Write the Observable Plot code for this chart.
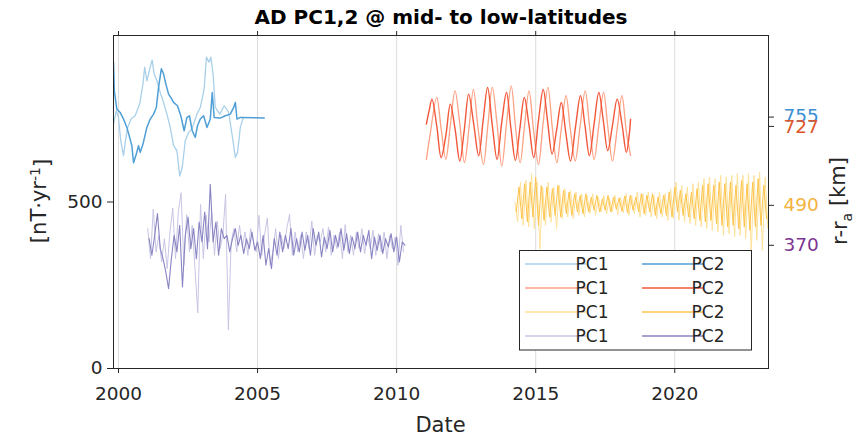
<!DOCTYPE html>
<html><head><meta charset="utf-8">
<script src="https://cdn.jsdelivr.net/npm/d3@7"></script>
<script src="https://cdn.jsdelivr.net/npm/@observablehq/plot@0.6"></script>
<style>html,body{margin:0;padding:0;background:#fff}svg{display:block}</style>
</head><body><div id="chart"></div>
<script>
// ---- tick labels / axes ----
const xTicks = [2000, 2005, 2010, 2015, 2020];
const yTicks = [0, 500];
const rightTicks = [755, 727, 490, 370];
const rightTickColors = ["#3b8fd3", "#e0562a", "#f2b43e", "#7d3691"];
const legendLabels = ["PC1", "PC2"];

// ---- series colours (PC1 light, PC2 dark) ----
const bluePC1Color = "#a9d0ea", bluePC2Color = "#4f9fd6";
const redPC1Color = "#fca285", redPC2Color = "#f2573a";
const yellowPC1Color = "#fee29a", yellowPC2Color = "#fec44c";
const purplePC1Color = "#c8c5e4", purplePC2Color = "#8985c3";

// ---- blue group: [decimal year, nT/yr] ----
const bluePC1 = [[1999.82,734],[1999.92,774],[2000.0,754],[2000.08,684],[2000.18,639],[2000.25,684],[2000.33,724],[2000.45,749],[2000.6,759],[2000.76,794],[2000.88,855],[2000.94,905],[2001.02,864],[2001.14,905],[2001.21,927],[2001.28,885],[2001.38,864],[2001.5,829],[2001.62,799],[2001.74,764],[2001.86,724],[2001.98,669],[2002.1,654],[2002.2,578],[2002.29,603],[2002.4,684],[2002.52,709],[2002.64,719],[2002.82,764],[2002.94,784],[2003.08,839],[2003.16,935],[2003.25,920],[2003.32,935],[2003.4,885],[2003.48,784],[2003.64,764],[2003.8,789],[2003.96,769],[2004.08,704],[2004.2,634],[2004.28,649],[2004.38,724],[2004.48,752]];
const bluePC2 = [[1999.82,920],[1999.85,834],[1999.94,779],[2000.06,769],[2000.18,749],[2000.3,724],[2000.4,694],[2000.48,669],[2000.54,618],[2000.64,644],[2000.72,669],[2000.78,649],[2000.88,674],[2001.02,724],[2001.14,749],[2001.26,764],[2001.36,784],[2001.44,844],[2001.54,900],[2001.62,885],[2001.7,855],[2001.8,824],[2001.88,814],[2001.98,799],[2002.12,789],[2002.24,759],[2002.36,714],[2002.46,754],[2002.55,759],[2002.65,714],[2002.76,694],[2002.84,729],[2002.94,749],[2003.06,759],[2003.18,724],[2003.3,749],[2003.37,829],[2003.44,754],[2003.66,752],[2003.84,759],[2004.02,764],[2004.14,784],[2004.2,799],[2004.26,749],[2004.38,754],[2005.24,752]];

// ---- red group ----
const redPC1 = [[2011.07,628],[2011.2,700],[2011.44,814],[2011.6,720],[2011.77,628],[2011.93,730],[2012.1,834],[2012.27,735],[2012.44,618],[2012.6,720],[2012.76,838],[2012.93,720],[2013.12,613],[2013.28,730],[2013.44,844],[2013.61,735],[2013.78,608],[2013.95,735],[2014.12,849],[2014.28,720],[2014.44,618],[2014.6,730],[2014.76,834],[2014.93,710],[2015.1,613],[2015.27,740],[2015.44,844],[2015.6,720],[2015.76,618],[2015.92,720],[2016.09,819],[2016.25,715],[2016.42,623],[2016.6,730],[2016.78,834],[2016.94,725],[2017.1,628],[2017.27,730],[2017.44,829],[2017.6,720],[2017.76,623],[2017.93,720],[2018.1,819],[2018.26,710],[2018.41,640]];
const redPC2 = [[2011.07,734],[2011.17,775],[2011.27,809],[2011.44,730],[2011.6,633],[2011.77,700],[2011.93,794],[2012.1,720],[2012.27,623],[2012.43,715],[2012.59,824],[2012.77,735],[2012.95,639],[2013.11,745],[2013.27,844],[2013.44,730],[2013.61,628],[2013.78,740],[2013.95,829],[2014.11,720],[2014.27,625],[2014.43,720],[2014.59,814],[2014.76,730],[2014.93,633],[2015.1,745],[2015.27,838],[2015.43,740],[2015.59,644],[2015.75,715],[2015.92,799],[2016.08,710],[2016.25,623],[2016.43,725],[2016.61,819],[2016.77,730],[2016.93,639],[2017.1,735],[2017.27,829],[2017.43,745],[2017.59,654],[2017.76,730],[2017.93,809],[2018.1,735],[2018.26,649],[2018.36,700],[2018.41,749]];

// ---- yellow group: sampled every 0.1 yr ----
const yellowPC1Start = 2014.25, yellowPC2Start = 2014.3, yellowStep = 0.1;
const yellowPC1 = [500,440,560,430,565,425,585,420,560,360,545,430,560,440,545,420,550,450,540,455,535,450,530,460,525,455,520,465,525,460,515,470,520,465,512,470,520,462,515,468,525,460,520,465,530,455,525,460,530,455,520,450,530,455,525,445,540,450,560,445,550,440,545,435,555,430,560,425,570,420,575,415,570,410,580,400,575,405,580,395,585,400,580,390,585,350,580,385,590,355,575,420];
const yellowPC2 = [470,545,450,555,440,560,455,575,430,550,445,545,455,540,460,550,455,535,465,530,460,525,470,520,465,525,470,515,475,520,470,510,475,520,470,515,478,512,472,518,468,520,475,515,470,525,465,520,470,525,460,515,465,520,460,530,455,545,470,535,460,525,455,530,450,540,445,550,440,555,445,550,435,560,430,555,425,560,430,550,420,565,425,555,415,560,425,570,430,550,450];

// ---- purple group: sampled every 0.1 yr ----
const purplePC1Start = 2001.05, purplePC2Start = 2001.1, purpleStep = 0.1;
const purplePC1 = [420,330,478,350,400,320,390,300,410,481,330,470,528,310,462,350,430,300,167,493,330,460,380,470,340,442,360,400,523,116,380,420,350,430,365,410,340,420,380,350,460,340,400,452,310,350,420,330,400,360,420,463,340,410,350,400,330,410,360,443,340,400,380,420,350,425,340,400,360,410,330,432,350,400,340,410,360,420,345,400,360,415,340,405,350,410,330,400,360,395,310,430,350];
const purplePC2 = [390,340,400,465,360,330,290,240,330,400,350,430,245,400,455,360,420,330,440,380,470,360,553,380,440,340,420,390,400,350,390,420,370,400,345,390,360,410,355,380,330,400,310,360,300,390,340,410,350,400,360,420,340,390,350,410,355,400,340,420,370,410,335,395,360,415,350,400,365,420,355,405,345,395,360,410,350,400,370,415,330,395,355,400,345,390,365,405,350,395,320,380,370];

// ---- build tables ----
const fromPairs = arr => arr.map(([t, v]) => ({t, v}));
const fromSamples = (start, step, vals) => vals.map((v, i) => ({t: start + i * step, v}));

const series = [
  {data: fromPairs(bluePC1), color: bluePC1Color, w: 1.3, curve: "linear"},
  {data: fromPairs(bluePC2), color: bluePC2Color, w: 1.5, curve: "linear"},
  {data: fromPairs(redPC1), color: redPC1Color, w: 1.3, curve: "catmull-rom"},
  {data: fromPairs(redPC2), color: redPC2Color, w: 1.4, curve: "catmull-rom"},
  {data: fromSamples(yellowPC1Start, yellowStep, yellowPC1), color: yellowPC1Color, w: 1, curve: "linear"},
  {data: fromSamples(yellowPC2Start, yellowStep, yellowPC2), color: yellowPC2Color, w: 1, curve: "linear"},
  {data: fromSamples(purplePC1Start, purpleStep, purplePC1), color: purplePC1Color, w: 1, curve: "linear"},
  {data: fromSamples(purplePC2Start, purpleStep, purplePC2), color: purplePC2Color, w: 1.1, curve: "linear"}
];
const legendRows = [
  [bluePC1Color, bluePC2Color],
  [redPC1Color, redPC2Color],
  [yellowPC1Color, yellowPC2Color],
  [purplePC1Color, purplePC2Color]
];

const ink = "#262626";
const tickFont = 18.5;

const chart = Plot.plot({
  width: 860,
  height: 437,
  marginLeft: 113,
  marginRight: 92,
  marginTop: 35,
  marginBottom: 69,
  style: {fontFamily: "'DejaVu Sans', sans-serif", fontSize: tickFont + "px", color: ink, background: "#fff"},
  x: {domain: [1999.82, 2023.37]},
  y: {domain: [0, 1000]},
  marks: [
    Plot.gridX(xTicks, {stroke: "#dcdcdc", strokeOpacity: 1}),
    ...series.map(s => Plot.line(s.data, {x: "t", y: "v", stroke: s.color, strokeWidth: s.w, curve: s.curve, clip: true})),
    Plot.frame({stroke: ink}),
    Plot.axisX({ticks: xTicks, tickFormat: d => String(d), tickSize: 5, tickPadding: 13, label: null, fontSize: tickFont, stroke: ink, fill: ink}),
    Plot.axisX({anchor: "top", ticks: xTicks, tickFormat: () => "", tickSize: 5, label: null, stroke: ink}),
    Plot.axisY({ticks: yTicks, tickSize: 6, tickPadding: 5, label: null, fontSize: tickFont, stroke: ink, fill: ink}),
    Plot.axisY({anchor: "right", ticks: rightTicks, tickFormat: () => "", tickSize: 5, label: null, stroke: ink}),
    ...rightTicks.map((t, i) => Plot.text([t], {y: d => d, frameAnchor: "right", dx: 15, dy: i === 0 ? -1 : (i === 1 ? 1 : 0), textAnchor: "start", fill: rightTickColors[i], fontSize: tickFont}))
  ]
});

document.getElementById("chart").appendChild(chart);
const svg = d3.select(chart);
const fam = "'DejaVu Sans', sans-serif";

// title
svg.append("text").attr("x", 441).attr("y", 24).attr("text-anchor", "middle")
  .attr("font-family", fam).attr("font-size", 20).attr("font-weight", "bold").attr("fill", "#000")
  .text("AD PC1,2 @ mid- to low-latitudes");

// x label
svg.append("text").attr("x", 440.5).attr("y", 432).attr("text-anchor", "middle")
  .attr("font-family", fam).attr("font-size", 21).attr("fill", ink).text("Date");

// left y label
const yl = svg.append("text").attr("transform", "translate(46,201) rotate(-90)").attr("text-anchor", "middle")
  .attr("font-family", fam).attr("font-size", 21).attr("fill", ink);
yl.append("tspan").text("[nT·yr");
yl.append("tspan").attr("dy", "-0.45em").attr("font-size", 14).text("-1");
yl.append("tspan").attr("dy", "0.45em").text("]");

// right y label
const yr = svg.append("text").attr("transform", "translate(847,201) rotate(-90)").attr("text-anchor", "middle")
  .attr("font-family", fam).attr("font-size", 21).attr("fill", ink);
yr.append("tspan").text("r-r");
yr.append("tspan").attr("dy", "0.35em").attr("font-size", 14).text("a");
yr.append("tspan").attr("dy", "-0.35em").text(" [km]");

// legend
const lg = svg.append("g");
lg.append("rect").attr("x", 519.5).attr("y", 250.5).attr("width", 232).attr("height", 99.5)
  .attr("fill", "#fff").attr("stroke", ink).attr("stroke-width", 1);
legendRows.forEach((cols, r) => {
  const yy = 264 + r * 24;
  cols.forEach((c, k) => {
    const x0 = k === 0 ? 525 : 642;
    lg.append("line").attr("x1", x0).attr("x2", x0 + 61).attr("y1", yy).attr("y2", yy)
      .attr("stroke", c).attr("stroke-width", 1.5);
    lg.append("text").attr("x", k === 0 ? 592 : 708).attr("y", yy).attr("dy", "0.36em")
      .attr("font-family", fam).attr("font-size", 17).attr("fill", ink).text(legendLabels[k]);
  });
});
</script></body></html>
